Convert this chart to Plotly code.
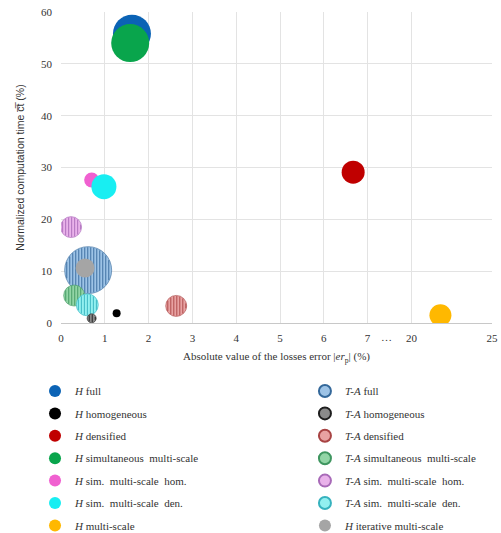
import plotly.graph_objects as go

# ---- data -------------------------------------------------------------
names = [
    "<i>H</i> full", "<i>H</i> homogeneous", "<i>H</i> densified",
    "<i>H</i> simultaneous  multi-scale", "<i>H</i> sim.  multi-scale  hom.",
    "<i>H</i> sim.  multi-scale  den.", "<i>H</i> multi-scale",
    "<i>T-A</i> full", "<i>T-A</i> homogeneous", "<i>T-A</i> densified",
    "<i>T-A</i> simultaneous  multi-scale", "<i>T-A</i> sim.  multi-scale  hom.",
    "<i>T-A</i> sim.  multi-scale  den.", "<i>H</i> iterative multi-scale",
]
loss_error = [1.62, 1.27, 6.67, 1.58, 0.70, 0.98, 21.8,
              0.62, 0.70, 2.63, 0.30, 0.23, 0.60, 0.55]
comp_time = [55.8, 1.9, 29.1, 54.0, 27.6, 26.3, 1.5,
             10.2, 0.9, 3.3, 5.3, 18.5, 3.5, 10.6]
bubble = [38, 8, 23, 38, 15, 25, 22,
          47, 9, 21, 21, 21, 22, 19]
striped = [False] * 7 + [True] * 6 + [False]
fill_colors = ["#0B63B5", "#000000", "#C00000", "#09A54C", "#F060D0", "#18EEF2", "#FFB800",
               "#9DC3E6", "#8A8A8A", "#E8A2A2", "#92D5A6", "#E9B2EA", "#92F0F0", "#A5A5A5"]
stripe_colors = [None] * 7 + ["#34689A", "#1E1E1E", "#A84444", "#3F9660", "#A86AB8", "#36B2BE"] + [None]
legend_column = [1] * 7 + [2] * 7

x_ticks = [0, 1, 2, 3, 4, 5, 6, 7, 20, 25]
y_ticks = [0, 10, 20, 30, 40, 50, 60]

# ---- broken x scale: 0..7 linear, then 20..25 compressed ----------------
def xpos(v):
    return v if v <= 7 else 8 + (v - 20) * (1.84 / 5)

W, H = 501, 533
ML, MR, MT, MB = 61, 9, 12, 210
x_lo, x_hi = 0, xpos(25)
y_lo, y_hi = 0, 60
PX_X = (W - ML - MR) / (x_hi - x_lo)
PX_Y = (H - MT - MB) / (y_hi - y_lo)


def stripes(xc, yc, d, step=3.0):
    """Vertical hatch segments clipped to a bubble of diameter d (px)."""
    r = d / 2 - 0.6
    xs, ys = [], []
    off = -r + step / 2
    while off < r:
        h = (r * r - off * off) ** 0.5
        xs += [xc + off / PX_X] * 2 + [None]
        ys += [yc - h / PX_Y, yc + h / PX_Y, None]
        off += step
    return xs, ys


draw_order = [7, 11, 10, 12, 9, 8, 13, 0, 3, 4, 5, 2, 1, 6]
legend_rank = {i: r for r, i in enumerate([0, 1, 2, 3, 4, 5, 6])}
legend_rank.update({i: r for r, i in enumerate([7, 8, 9, 10, 11, 12, 13])})

fig = go.Figure()
for i in draw_order:
    xc = xpos(loss_error[i])
    fig.add_trace(go.Scatter(
        x=[xc], y=[comp_time[i]], mode="markers", name=names[i],
        legend="legend" if legend_column[i] == 1 else "legend2",
        legendgroup=f"g{i}", legendrank=legend_rank[i] + 1,
        marker=dict(size=bubble[i], color=fill_colors[i],
                    line=dict(width=0.6 if striped[i] else 0,
                              color=stripe_colors[i] or fill_colors[i])),
        hovertemplate="|er|=%{customdata}%<br>ct=%{y}%<extra></extra>",
        customdata=[loss_error[i]],
    ))
    if striped[i]:
        sx, sy = stripes(xc, comp_time[i], bubble[i])
        fig.add_trace(go.Scatter(
            x=sx, y=sy, mode="lines", showlegend=False, hoverinfo="skip",
            legend="legend" if legend_column[i] == 1 else "legend2",
            legendgroup=f"g{i}",
            line=dict(color=stripe_colors[i], width=0.9),
        ))

serif = "Liberation Serif"
legend_style = dict(y=-0.172, xanchor="left", yanchor="top",
                    font=dict(family=serif, size=11, color="#333333"),
                    itemsizing="constant", tracegroupgap=3.4, itemwidth=30,
                    bgcolor="rgba(0,0,0,0)")
fig.update_layout(
    width=W, height=H,
    margin=dict(l=ML, r=MR, t=MT, b=MB, autoexpand=False),
    paper_bgcolor="white", plot_bgcolor="white",
    font=dict(family=serif, size=11, color="#333333"),
    xaxis=dict(
        range=[x_lo, x_hi], tickmode="array",
        tickvals=[xpos(v) for v in x_ticks], ticktext=[str(v) for v in x_ticks],
        showgrid=True, gridcolor="#E3E3E3", gridwidth=1,
        zeroline=False, showline=True, linecolor="#C8C8C8",
        ticks="", ticklabelstandoff=5,
        tickfont=dict(family=serif, size=11, color="#333333"),
        title=dict(text="Absolute value of the losses error |<i>er</i><sub>p</sub>| (%)",
                   font=dict(family=serif, size=11, color="#333333"), standoff=9),
    ),
    yaxis=dict(
        range=[y_lo, y_hi], tickvals=y_ticks,
        showgrid=True, gridcolor="#E3E3E3", gridwidth=1,
        zeroline=False, showline=False, ticks="", ticklabelstandoff=8,
        tickfont=dict(family=serif, size=11, color="#333333"),
        title=dict(text="Normalized computation time c\u0305t\u0305 (%)",
                   font=dict(family="Liberation Sans", size=10.5, color="#333333"),
                   standoff=14),
    ),
    legend=dict(x=-0.0603, **legend_style),
    legend2=dict(x=0.566, **legend_style),
    annotations=[dict(x=xpos(7) + 0.44, y=-0.046, xref="x", yref="paper",
                      text="\u2026", showarrow=False, yanchor="middle",
                      font=dict(family=serif, size=11, color="#333333"))],
    showlegend=True,
)

fig.write_html("out.html")
